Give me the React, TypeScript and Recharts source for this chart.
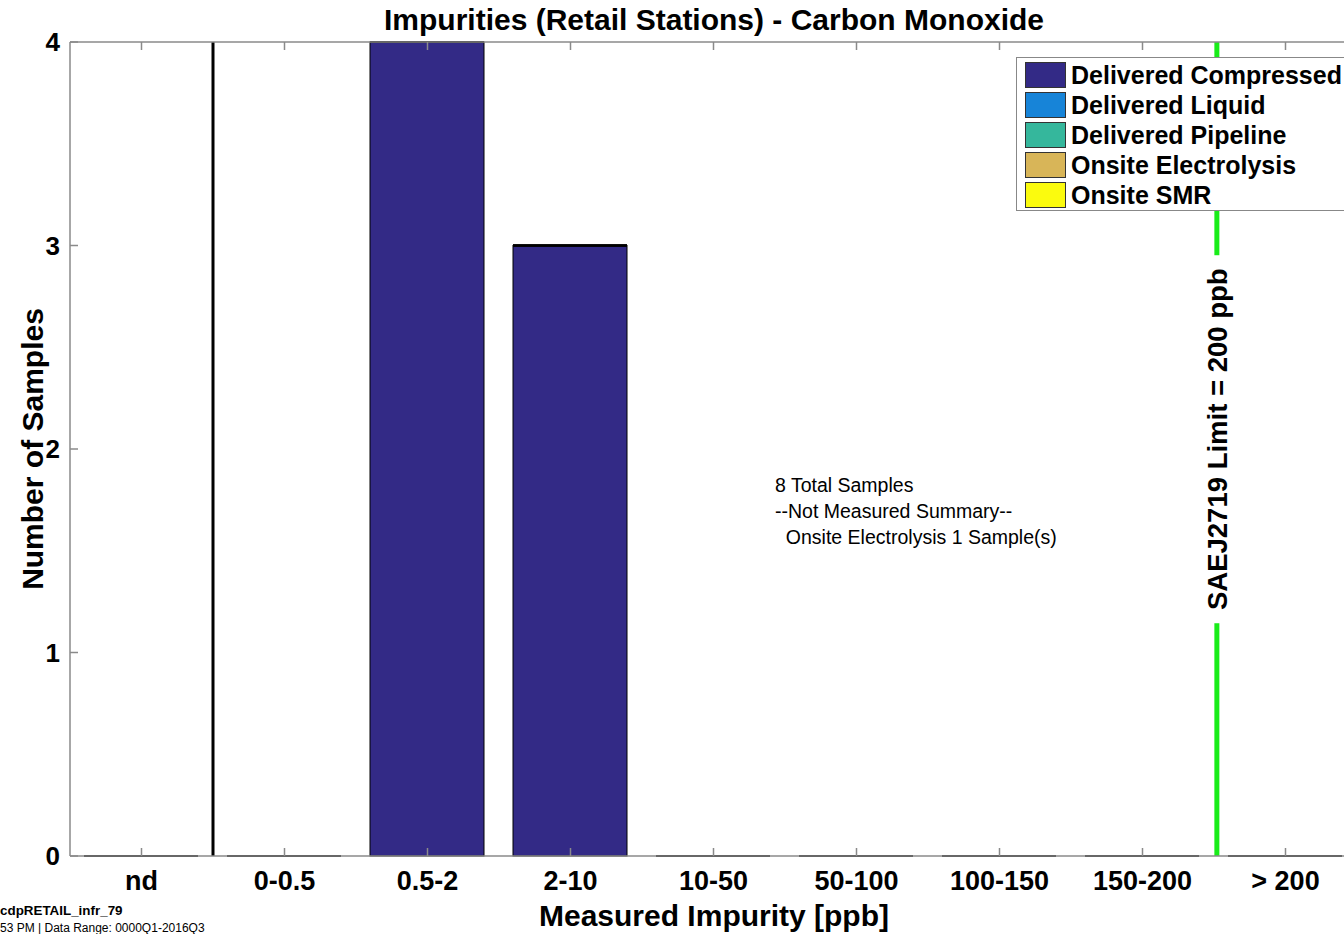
import React from 'react';
import { BarChart, Bar, XAxis, YAxis, ReferenceLine, Legend } from 'recharts';

// bins of measured impurity, in ppb
const CATEGORIES = ['nd', '0-0.5', '0.5-2', '2-10', '10-50', '50-100', '100-150', '150-200', '> 200'];
const POSITIONS = [1, 2, 3, 4, 5, 6, 7, 8, 9];

// sample counts per source type
const DELIVERED_COMPRESSED = [0, 0, 4, 3, 0, 0, 0, 0, 0];
const DELIVERED_LIQUID = [0, 0, 0, 0, 0, 0, 0, 0, 0];
const DELIVERED_PIPELINE = [0, 0, 0, 0, 0, 0, 0, 0, 0];
const ONSITE_ELECTROLYSIS = [0, 0, 0, 0, 0, 0, 0, 0, 0];
const ONSITE_SMR = [0, 0, 0, 0, 0, 0, 0, 0, 0];

const Y_TICKS = [0, 1, 2, 3, 4];
const ND_SPLIT = 1.5; // between nd and 0-0.5
const LIMIT_POS = 8.52; // SAE J2719 limit, 200 ppb

const SERIES = [
  { key: 'dc', name: 'Delivered Compressed', color: '#332a86', values: DELIVERED_COMPRESSED },
  { key: 'dl', name: 'Delivered Liquid', color: '#1784d8', values: DELIVERED_LIQUID },
  { key: 'dp', name: 'Delivered Pipeline', color: '#35b79c', values: DELIVERED_PIPELINE },
  { key: 'oe', name: 'Onsite Electrolysis', color: '#d8b558', values: ONSITE_ELECTROLYSIS },
  { key: 'smr', name: 'Onsite SMR', color: '#fbfb0e', values: ONSITE_SMR },
];

const data = POSITIONS.map((pos, i) => {
  const row: Record<string, number | string> = { pos, name: CATEGORIES[i] };
  SERIES.forEach(s => { row[s.key] = s.values[i]; });
  return row;
});

const FONT = '"Liberation Sans", Arial, sans-serif';
const AXIS_GRAY = '#8a8a8a';

// matlab draws empty bars as a flat black line
const BarShape = (props: any) => {
  const { x, y, width, height, fill } = props;
  if (!height) {
    return <line x1={x} x2={x + width} y1={y} y2={y} stroke="#000" strokeWidth={2} />;
  }
  return <rect x={x} y={y} width={width} height={height} fill={fill} stroke="#000" strokeWidth={1} />;
};

const LimitLabel = (props: any) => {
  const { viewBox } = props;
  const cx = viewBox.x;
  const cy = viewBox.y + viewBox.height * 0.488;
  return (
    <g>
      <rect x={cx - 17} y={cy - 184} width={34} height={368} fill="#fff" />
      <text
        transform={`translate(${cx + 10},${cy}) rotate(-90)`}
        textAnchor="middle"
        fontFamily={FONT}
        fontWeight="bold"
        fontSize={27.5}
        fill="#000"
      >
        SAEJ2719 Limit = 200 ppb
      </text>
    </g>
  );
};

const renderLegend = (props: any) => {
  const { payload } = props;
  const colorOf = (name: string) => SERIES.find(s => s.name === name)?.color;
  return (
    <div style={{ border: '1px solid #888', background: '#fff', padding: '2px 0 0 8px', width: 360, boxSizing: 'border-box' }}>
      {payload.map((p: any) => (
        <div key={p.value} style={{ display: 'flex', alignItems: 'center', height: 30 }}>
          <span style={{ width: 41, height: 26, background: colorOf(p.value), border: '1px solid #333', boxSizing: 'border-box', marginRight: 5 }} />
          <span style={{ fontFamily: FONT, fontWeight: 'bold', fontSize: 25, color: '#000', whiteSpace: 'nowrap' }}>{p.value}</span>
        </div>
      ))}
    </div>
  );
};

export default function App() {
  return (
    <div style={{ position: 'absolute', left: 0, top: 0, width: 1344, height: 934, overflow: 'hidden', background: '#fff', fontFamily: FONT }}>
      <BarChart width={1380} height={934} data={data} margin={{ top: 0, right: 0, bottom: 0, left: 0 }}>
        <XAxis
          dataKey="pos"
          type="number"
          domain={[0.5, 9.5]}
          ticks={POSITIONS}
          tickFormatter={(v: number) => CATEGORIES[v - 1]}
          height={78}
          tickSize={-8}
          tickMargin={23}
          stroke={AXIS_GRAY}
          strokeWidth={1.5}
          tick={{ fill: '#000', fontFamily: FONT, fontWeight: 'bold', fontSize: 27 }}
        />
        <XAxis
          xAxisId="top"
          orientation="top"
          dataKey="pos"
          type="number"
          domain={[0.5, 9.5]}
          ticks={POSITIONS}
          tickFormatter={() => ''}
          height={42}
          tickSize={-8}
          stroke={AXIS_GRAY}
          strokeWidth={1.5}
        />
        <YAxis
          domain={[0, 4]}
          ticks={Y_TICKS}
          width={70}
          tickSize={-8}
          tickMargin={18}
          stroke={AXIS_GRAY}
          strokeWidth={1.5}
          tick={{ fill: '#000', fontFamily: FONT, fontWeight: 'bold', fontSize: 26 }}
        />
        <YAxis
          yAxisId="right"
          orientation="right"
          domain={[0, 4]}
          ticks={Y_TICKS}
          width={23}
          tickSize={-10}
          tickFormatter={() => ''}
          stroke={AXIS_GRAY}
          strokeWidth={1.5}
        />
        <Legend
          layout="vertical"
          align="center"
          verticalAlign="middle"
          width={360}
          wrapperStyle={{ left: 1016, top: 57 }}
          content={renderLegend}
        />
        {SERIES.map(s => (
          <Bar
            key={s.key}
            dataKey={s.key}
            name={s.name}
            stackId="a"
            fill={s.color}
            barSize={114}
            shape={BarShape}
            isAnimationActive={false}
          />
        ))}
        <ReferenceLine x={ND_SPLIT} stroke="#000" strokeWidth={3} />
        <ReferenceLine x={LIMIT_POS} stroke="#19ec19" strokeWidth={5} label={LimitLabel} />
      </BarChart>

      <div style={{ position: 'absolute', left: 714, top: 5, transform: 'translateX(-50%)', fontSize: 30, fontWeight: 'bold', lineHeight: 1, whiteSpace: 'nowrap' }}>
        Impurities (Retail Stations) - Carbon Monoxide
      </div>
      <div style={{ position: 'absolute', left: 33, top: 449, transform: 'translate(-50%,-50%) rotate(-90deg)', fontSize: 30, fontWeight: 'bold', lineHeight: 1, whiteSpace: 'nowrap' }}>
        Number of Samples
      </div>
      <div style={{ position: 'absolute', left: 714, top: 901, transform: 'translateX(-50%)', fontSize: 30, fontWeight: 'bold', lineHeight: 1, whiteSpace: 'nowrap' }}>
        Measured Impurity [ppb]
      </div>
      <div style={{ position: 'absolute', left: 775, top: 472, fontSize: 19.5, lineHeight: '26px', whiteSpace: 'pre' }}>
        {'8 Total Samples\n--Not Measured Summary--\n  Onsite Electrolysis 1 Sample(s)'}
      </div>
      <div style={{ position: 'absolute', left: 0, top: 904, fontSize: 13.4, fontWeight: 'bold', lineHeight: 1, whiteSpace: 'nowrap' }}>
        cdpRETAIL_infr_79
      </div>
      <div style={{ position: 'absolute', left: 0, top: 922, fontSize: 12, lineHeight: 1, whiteSpace: 'nowrap' }}>
        53 PM | Data Range: 0000Q1-2016Q3
      </div>
    </div>
  );
}
